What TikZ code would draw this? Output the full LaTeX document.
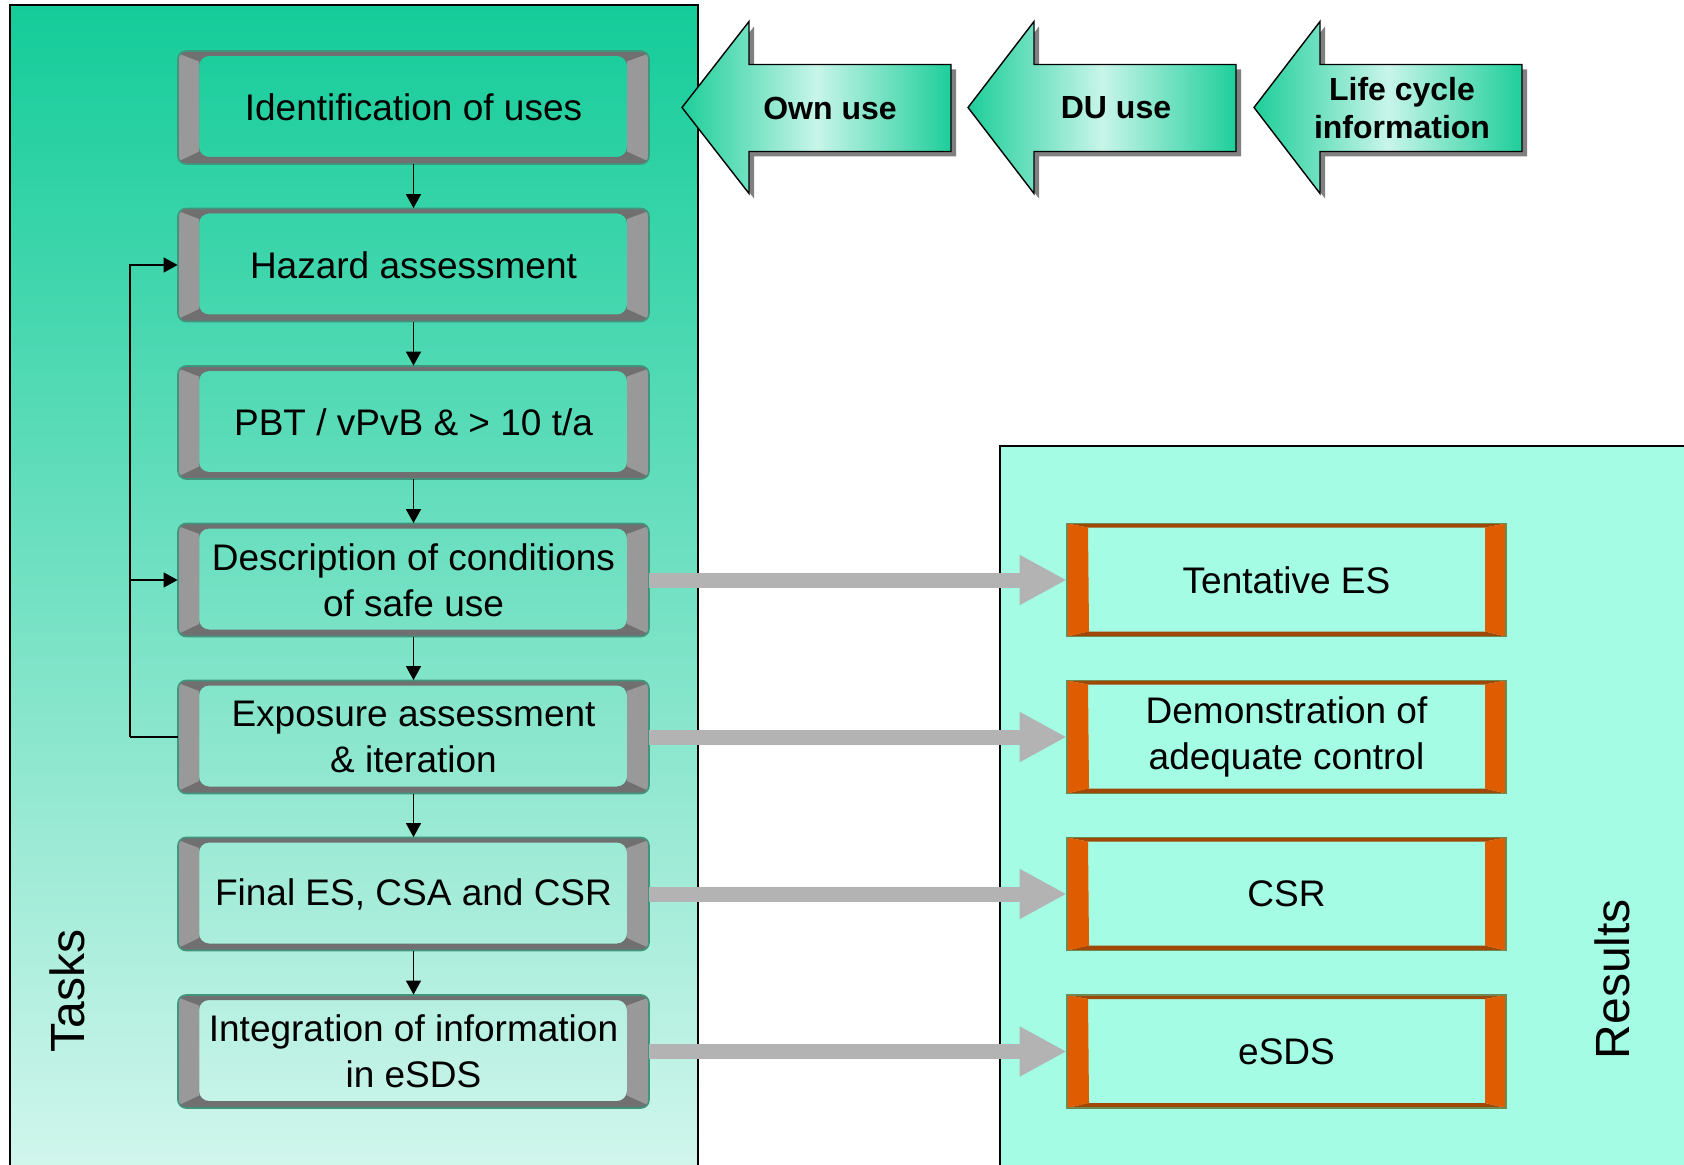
\documentclass[tikz,border=0pt]{standalone}
\usepackage{fontspec}
\setmainfont{Liberation Sans}
\usetikzlibrary{arrows.meta}

\definecolor{panelTop}{RGB}{20,204,153}
\definecolor{panelMid}{RGB}{140,222,196}
\definecolor{panelBot}{RGB}{210,246,237}
\definecolor{resPanel}{RGB}{163,252,227}
\definecolor{bevDark}{RGB}{112,112,112}
\definecolor{bevLight}{RGB}{153,153,153}
\definecolor{bevLine}{RGB}{64,150,125}
\definecolor{resOrange}{RGB}{224,92,0}
\definecolor{resBrown}{RGB}{160,72,8}
\definecolor{resLine}{RGB}{110,138,80}
\definecolor{flowGray}{RGB}{179,179,179}
\definecolor{arrGreen}{RGB}{30,206,154}
\definecolor{arrLight}{RGB}{200,245,233}
\definecolor{arrShadow}{RGB}{128,128,128}

\tikzset{
  tasktext/.style={minimum width=235.5pt, minimum height=56.5pt, inner sep=0pt,
    align=center, font=\fontsize{18.5}{22.8}\selectfont},
  restext/.style={minimum width=219.5pt, minimum height=56.5pt, inner sep=0pt,
    align=center, font=\fontsize{18.5}{22.8}\selectfont},
  flow/.style={draw=black, line width=0.75pt, -{Triangle[length=7pt,width=7.5pt]}},
  feed/.style={draw=black, line width=0.75pt},
  outflow/.style={draw=flowGray, line width=7.5pt, -{Triangle[length=23.5pt,width=23.5pt]}},
  usetext/.style={font=\bfseries\fontsize{16}{18.8}\selectfont, align=center},
  sidelabel/.style={rotate=90, font=\fontsize{24}{28}\selectfont},
  usearrowfill/.style={left color=arrGreen, right color=arrGreen, middle color=arrLight,
    draw=black, line width=0.7pt},
}

% task step: bevelled grey frame with the step text; #1 name, #2 centre y, #3 text
\newcommand{\taskbox}[3]{%
  \begin{scope}[shift={(0,#2)}]
    \fill[bevDark, even odd rule]
      [rounded corners=4pt] (178,-56.5) rectangle (649,56.5)
      [rounded corners=5pt] (199,-51.5) rectangle (627,49.5);
    \begin{scope}
      \clip[rounded corners=4pt] (178,-56.5) rectangle (649,56.5);
      \fill[bevLight] (178,-54) -- (199,-46) -- (199,44) -- (178,54) -- cycle;
      \fill[bevLight] (649,-54) -- (627,-46) -- (627,44) -- (649,54) -- cycle;
    \end{scope}
    \draw[bevLine, line width=0.8pt, rounded corners=4pt] (178,-56.5) rectangle (649,56.5);
    \node[tasktext] (#1) at (413.5,0) {#3};
  \end{scope}}

% result: frame with orange sides; #1 name, #2 centre y, #3 text
\newcommand{\resultbox}[3]{%
  \begin{scope}[shift={(0,#2)}]
    \fill[resBrown] (1067,-56.5) -- (1506,-56.5) -- (1485,-52.5) -- (1088,-52.5) -- cycle;
    \fill[resBrown] (1067,56.5) -- (1506,56.5) -- (1485,51.5) -- (1088,51.5) -- cycle;
    \fill[resOrange] (1067,-56.5) -- (1088,-52.5) -- (1089,51.5) -- (1067,56.5) -- cycle;
    \fill[resOrange] (1506,-56.5) -- (1485,-52.5) -- (1485,51.5) -- (1506,56.5) -- cycle;
    \draw[resLine, line width=0.8pt] (1067,-56.5) rectangle (1506,56.5);
    \node[restext] (#1) at (1286.5,0) {#3};
  \end{scope}}

% left-pointing block arrow with drop shadow; #1 tip x, #2 head base x, #3 tail x
\newcommand{\usearrow}[3]{%
  \begin{scope}[shift={(5,5)}]
    \fill[arrShadow] (#1,107.5) -- (#2,21.5) -- (#2,64.5) -- (#3,64.5) -- (#3,151.5)
      -- (#2,151.5) -- (#2,193.5) -- cycle;
  \end{scope}
  \path[usearrowfill] (#1,107.5) -- (#2,21.5) -- (#2,64.5) -- (#3,64.5) -- (#3,151.5)
    -- (#2,151.5) -- (#2,193.5) -- cycle;}

\begin{document}
\begin{tikzpicture}[x=0.5pt, y=-0.5pt]
  \useasboundingbox (0,0) rectangle (1684,1165);
  \clip (0,0) rectangle (1684,1165);

  % panels
  \path[top color=panelTop, middle color=panelMid, bottom color=panelBot]
    (10,5) rectangle (698,1175);
  \draw[line width=1pt] (10,1175) -- (10,5) -- (698,5) -- (698,1175);
  \path[fill=resPanel] (1000,446) rectangle (1690,1175);
  \draw[line width=1pt] (1000,1175) -- (1000,446) -- (1690,446);

  % inputs
  \usearrow{682}{749}{951}
  \usearrow{968}{1034}{1236}
  \usearrow{1254}{1320}{1522}
  \node[usetext] (own) at (830,108) {Own use};
  \node[usetext] (du) at (1116,108) {DU use};
  \node[usetext] (lc) at (1402,108) {Life cycle\\information};

  % task steps
  \taskbox{t1}{107.5}{Identification of uses}
  \taskbox{t2}{265}{Hazard assessment}
  \taskbox{t3}{422.5}{PBT / vPvB \& > 10 t/a}
  \taskbox{t4}{580}{Description of conditions\\of safe use}
  \taskbox{t5}{737}{Exposure assessment\\\& iteration}
  \taskbox{t6}{894}{Final ES, CSA and CSR}
  \taskbox{t7}{1051.5}{Integration of information\\in eSDS}

  % results
  \resultbox{r4}{580}{Tentative ES}
  \resultbox{r5}{737}{Demonstration of\\adequate control}
  \resultbox{r6}{894}{CSR}
  \resultbox{r7}{1051.5}{eSDS}

  % side labels
  \node[sidelabel] (tasks) at (67,991) {Tasks};
  \node[sidelabel] (results) at (1612,979) {Results};

  % task sequence
  \draw[flow] (t1) -- (t2);
  \draw[flow] (t2) -- (t3);
  \draw[flow] (t3) -- (t4);
  \draw[flow] (t4) -- (t5);
  \draw[flow] (t5) -- (t6);
  \draw[flow] (t6) -- (t7);

  % iteration loop
  \coordinate (loop) at (130,737);
  \draw[feed] (t5.west) -- (loop);
  \draw[flow] (loop) |- (t2.west);
  \draw[flow] (loop |- t4.west) -- (t4.west);

  % outputs
  \draw[outflow] (t4.east) -- (r4.west);
  \draw[outflow] (t5.east) -- (r5.west);
  \draw[outflow] (t6.east) -- (r6.west);
  \draw[outflow] (t7.east) -- (r7.west);
\end{tikzpicture}
\end{document}
